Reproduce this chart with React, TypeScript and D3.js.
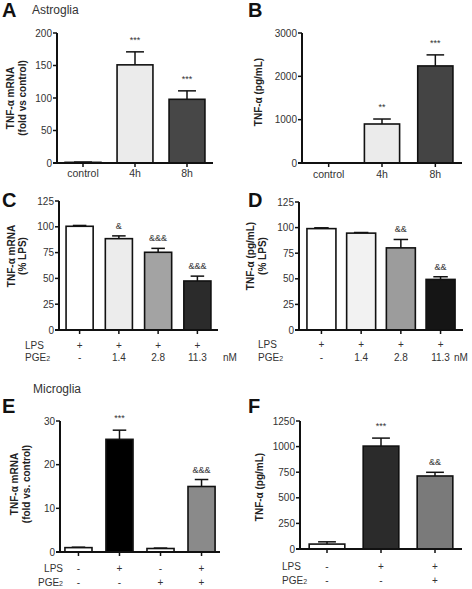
import React from "react";
import * as d3 from "d3";

const FONT = "'Liberation Sans', Arial, Helvetica, sans-serif";

// ---------- Panel A (Astroglia, mRNA) ----------
const aCategories = ["control", "4h", "8h"];
const aValues = [1, 151, 98];
const aErrors = [0.4, 20, 13];
const aTicks = [0, 50, 100, 150, 200];
const aMarks = ["", "***", "***"];
const aColors = ["#ffffff", "#ebebeb", "#474747"];

// ---------- Panel B (Astroglia, protein) ----------
const bCategories = ["control", "4h", "8h"];
const bValues = [0, 900, 2240];
const bErrors = [0, 115, 255];
const bTicks = [0, 1000, 2000, 3000];
const bMarks = ["", "**", "***"];
const bColors = ["#ffffff", "#ebebeb", "#444444"];

// ---------- Panel C ----------
const cLPS = ["+", "+", "+", "+"];
const cPGE2 = ["-", "1.4", "2.8", "11.3"];
const cValues = [100.5, 88.5, 75.3, 47.5];
const cErrors = [0.8, 2.7, 3.8, 4.7];
const cTicks = [0, 25, 50, 75, 100, 125];
const cMarks = ["", "&", "&&&", "&&&"];
const cColors = ["#ffffff", "#ececec", "#a3a3a3", "#2b2b2b"];

// ---------- Panel D ----------
const dLPS = ["+", "+", "+", "+"];
const dPGE2 = ["-", "1.4", "2.8", "11.3"];
const dValues = [99, 94.6, 80.2, 49.4];
const dErrors = [0.8, 0.6, 8.2, 2.6];
const dTicks = [0, 25, 50, 75, 100, 125];
const dMarks = ["", "", "&&", "&&"];
const dColors = ["#ffffff", "#f2f2f2", "#9c9c9c", "#151515"];

// ---------- Panel E (Microglia, mRNA) ----------
const eLPS = ["-", "+", "-", "+"];
const ePGE2 = ["-", "-", "+", "+"];
const eValues = [1, 25.8, 0.8, 15];
const eErrors = [0.1, 2.1, 0.1, 1.6];
const eTicks = [0, 10, 20, 30];
const eMarks = ["", "***", "", "&&&"];
const eColors = ["#ffffff", "#000000", "#ffffff", "#8a8a8a"];

// ---------- Panel F (Microglia, protein) ----------
const fLPS = ["-", "+", "+"];
const fPGE2 = ["-", "-", "+"];
const fValues = [48, 1005, 713];
const fErrors = [22, 78, 36];
const fTicks = [0, 250, 500, 750, 1000, 1250];
const fMarks = ["", "***", "&&"];
const fColors = ["#ffffff", "#2b2b2b", "#7a7a7a"];

type PanelCfg = {
  values: number[];
  errors: number[];
  colors: string[];
  marks: string[];
  ticks: number[];
  xRange: [number, number];
  yRange: [number, number];
  pi: number;
  po: number;
  yLabel: string[];
  yLabelX: number[];
  yLabelCY: number;
  categories?: string[];
  catY?: number;
  rows?: { name: string; vals: string[]; y: number }[];
  rowLabelX?: number;
  rowLabelAnchor?: string;
  unit?: { text: string; x: number };
};

function Panel({ cfg }: { cfg: PanelCfg }) {
  const n = cfg.values.length;
  const x = d3
    .scaleBand<number>()
    .domain(d3.range(n))
    .range(cfg.xRange)
    .paddingInner(cfg.pi)
    .paddingOuter(cfg.po);
  const maxT = cfg.ticks[cfg.ticks.length - 1];
  const y = d3.scaleLinear().domain([0, maxT]).range(cfg.yRange);
  const x0 = cfg.xRange[0];
  const y0 = y(0);
  const bw = x.bandwidth();
  return (
    <g fontFamily={FONT}>
      {cfg.values.map((v, i) => {
        const bx = x(i)!;
        const cx = bx + bw / 2;
        const top = y(v);
        const et = y(v + cfg.errors[i]);
        const cap = bw * 0.5;
        const mark = cfg.marks[i];
        const off = mark.startsWith("*") ? 9 : 7;
        return (
          <g key={i}>
            {cfg.errors[i] > 0 && (
              <g stroke="#111" strokeWidth={1.5}>
                <line x1={cx} x2={cx} y1={top} y2={et} />
                <line x1={cx - cap / 2} x2={cx + cap / 2} y1={et} y2={et} />
              </g>
            )}
            <rect
              x={bx}
              y={top}
              width={bw}
              height={Math.max(0, y0 - top)}
              fill={cfg.colors[i]}
              stroke="#111"
              strokeWidth={1.6}
            />
            {mark && (
              <text x={cx} y={et - off} textAnchor="middle" fontSize={9} fill="#333">
                {mark}
              </text>
            )}
          </g>
        );
      })}
      <line x1={x0} x2={x0} y1={y(maxT)} y2={y0 + 1} stroke="#111" strokeWidth={2} />
      {cfg.ticks.map((t) => (
        <g key={t}>
          <line x1={x0 - 4} x2={x0} y1={y(t)} y2={y(t)} stroke="#111" strokeWidth={1.5} />
          <text x={x0 - 5} y={y(t) + 3.5} textAnchor="end" fontSize={10} fill="#333">
            {t}
          </text>
        </g>
      ))}
      <line x1={x0 - 4} x2={cfg.xRange[1]} y1={y0} y2={y0} stroke="#111" strokeWidth={2} />
      {cfg.values.map((_, i) => (
        <line
          key={i}
          x1={x(i)! + bw / 2}
          x2={x(i)! + bw / 2}
          y1={y0}
          y2={y0 + 4}
          stroke="#111"
          strokeWidth={1.5}
        />
      ))}
      {cfg.categories &&
        cfg.categories.map((c, i) => (
          <text key={c} x={x(i)! + bw / 2} y={cfg.catY} textAnchor="middle" fontSize={10.5} fill="#333">
            {c}
          </text>
        ))}
      {cfg.rows &&
        cfg.rows.map((r) => (
          <g key={r.name}>
            <text
              x={cfg.rowLabelX}
              y={r.y}
              textAnchor={cfg.rowLabelAnchor as any}
              fontSize={10}
              fill="#333"
            >
              {r.name === "PGE2" ? (
                <>
                  PGE<tspan fontSize={7}>2</tspan>
                </>
              ) : (
                r.name
              )}
            </text>
            {r.vals.map((v, i) => (
              <text key={i} x={x(i)! + bw / 2} y={r.y} textAnchor="middle" fontSize={10} fill="#333">
                {v}
              </text>
            ))}
          </g>
        ))}
      {cfg.unit && cfg.rows && (
        <text x={cfg.unit.x} y={cfg.rows[cfg.rows.length - 1].y} fontSize={10} fill="#333">
          {cfg.unit.text}
        </text>
      )}
      {cfg.yLabel.map((l, k) => (
        <text
          key={k}
          transform={`translate(${cfg.yLabelX[k]},${cfg.yLabelCY}) rotate(-90)`}
          textAnchor="middle"
          fontSize={10}
          fontWeight="bold"
          fill="#222"
        >
          {l}
        </text>
      ))}
    </g>
  );
}

export default function App() {
  const panels: PanelCfg[] = [
    {
      values: aValues, errors: aErrors, colors: aColors, marks: aMarks, ticks: aTicks,
      xRange: [57, 213], yRange: [163, 33], pi: 0.31, po: 0.155,
      yLabel: ["TNF-α mRNA", "(fold vs control)"], yLabelX: [13.5, 25.5], yLabelCY: 98,
      categories: aCategories, catY: 177,
    },
    {
      values: bValues, errors: bErrors, colors: bColors, marks: bMarks, ticks: bTicks,
      xRange: [302, 462], yRange: [163, 33], pi: 0.34, po: 0.17,
      yLabel: ["TNF-α (pg/mL)"], yLabelX: [261.5], yLabelCY: 92,
      categories: bCategories, catY: 178,
    },
    {
      values: cValues, errors: cErrors, colors: cColors, marks: cMarks, ticks: cTicks,
      xRange: [59, 218], yRange: [330, 201], pi: 0.31, po: 0.18,
      yLabel: ["TNF-α mRNA", "(% LPS)"], yLabelX: [15, 26], yLabelCY: 256,
      rows: [
        { name: "LPS", vals: cLPS, y: 349 },
        { name: "PGE2", vals: cPGE2, y: 361 },
      ],
      rowLabelX: 25, rowLabelAnchor: "start", unit: { text: "nM", x: 223 },
    },
    {
      values: dValues, errors: dErrors, colors: dColors, marks: dMarks, ticks: dTicks,
      xRange: [299, 463], yRange: [330, 202], pi: 0.27, po: 0.2,
      yLabel: ["TNF-α (pg/mL)", "(% LPS)"], yLabelX: [253.5, 265.5], yLabelCY: 256,
      rows: [
        { name: "LPS", vals: dLPS, y: 348 },
        { name: "PGE2", vals: dPGE2, y: 361 },
      ],
      rowLabelX: 258, rowLabelAnchor: "start", unit: { text: "nM", x: 454 },
    },
    {
      values: eValues, errors: eErrors, colors: eColors, marks: eMarks, ticks: eTicks,
      xRange: [60, 220], yRange: [552, 421], pi: 0.34, po: 0.12,
      yLabel: ["TNF-α  mRNA", "(fold vs. control)"], yLabelX: [17.5, 29.5], yLabelCY: 484,
      rows: [
        { name: "LPS", vals: eLPS, y: 572 },
        { name: "PGE2", vals: ePGE2, y: 586 },
      ],
      rowLabelX: 63, rowLabelAnchor: "end",
    },
    {
      values: fValues, errors: fErrors, colors: fColors, marks: fMarks, ticks: fTicks,
      xRange: [300, 462], yRange: [549, 421], pi: 0.34, po: 0.17,
      yLabel: ["TNF-α (pg/mL)"], yLabelX: [262.5], yLabelCY: 487,
      rows: [
        { name: "LPS", vals: fLPS, y: 570 },
        { name: "PGE2", vals: fPGE2, y: 584 },
      ],
      rowLabelX: 282, rowLabelAnchor: "start",
    },
  ];

  const letters = [
    { t: "A", x: 2, y: 17 },
    { t: "B", x: 248, y: 17 },
    { t: "C", x: 2, y: 207 },
    { t: "D", x: 248, y: 207 },
    { t: "E", x: 2, y: 413 },
    { t: "F", x: 248, y: 413 },
  ];

  return (
    <svg
      width={472}
      height={589}
      style={{ position: "absolute", left: 0, top: 0, background: "#fff" }}
    >
      <rect width={472} height={589} fill="#fff" />
      {letters.map((l) => (
        <text key={l.t} x={l.x} y={l.y} fontFamily={FONT} fontSize={20} fontWeight="bold" fill="#111">
          {l.t}
        </text>
      ))}
      <text x={32} y={14} fontFamily={FONT} fontSize={12} fill="#333">Astroglia</text>
      <text x={33} y={393} fontFamily={FONT} fontSize={12} fill="#333">Microglia</text>
      {panels.map((p, i) => (
        <Panel key={i} cfg={p} />
      ))}
    </svg>
  );
}
